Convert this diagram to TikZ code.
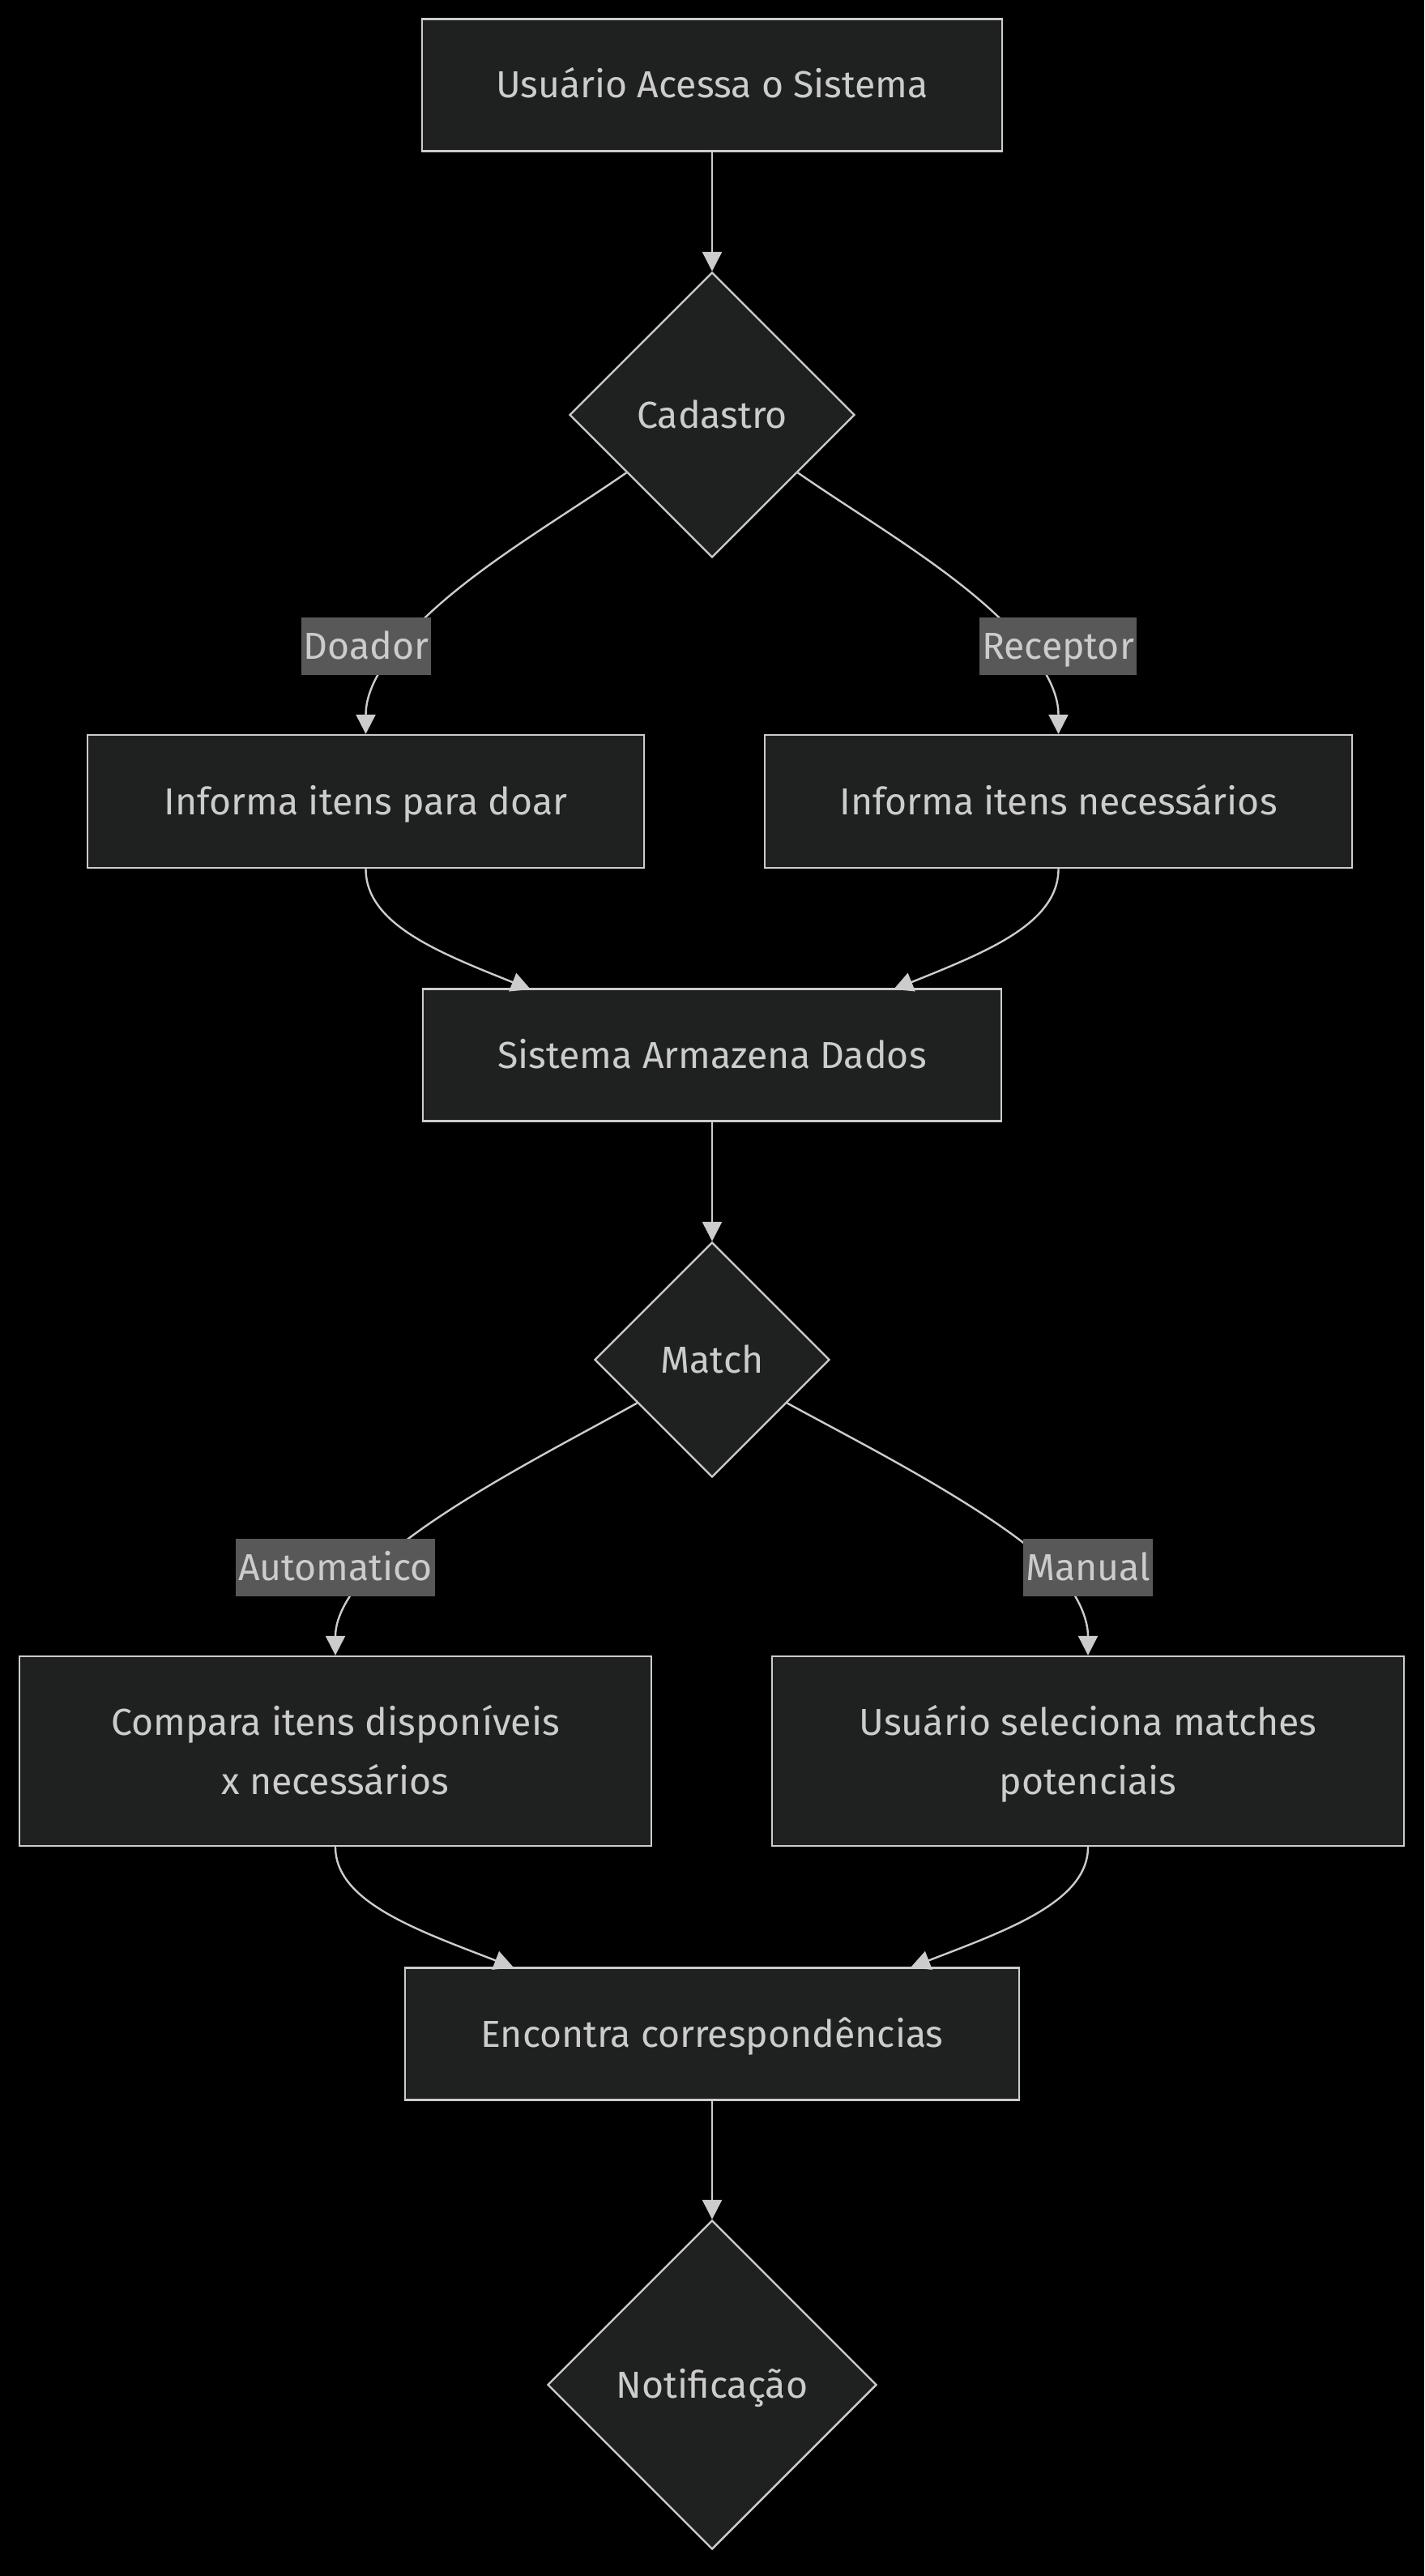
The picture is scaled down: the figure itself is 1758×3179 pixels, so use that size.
\documentclass[tikz,border=0pt]{standalone}
\usepackage{fontspec}
\setmainfont{Fira Sans}
\usetikzlibrary{shapes.geometric,arrows.meta}
\definecolor{nodefill}{HTML}{1F2020}
\definecolor{strokec}{HTML}{CCCCCC}
\definecolor{textc}{HTML}{CCCCCC}
\definecolor{lblbg}{HTML}{585858}
\pgfdeclarelayer{fg}
\pgfsetlayers{main,fg}
\begin{document}
\begin{tikzpicture}[x=0.5pt,y=-0.5pt,
  basefont/.style={font=\fontsize{23.2pt}{36.5pt}\selectfont},
  boxnode/.style={draw=strokec, fill=nodefill, line width=1.2pt, text=textc,
    rectangle, inner sep=0pt, align=center, basefont, text height=19pt, text depth=3pt},
  twoline/.style={text height=53pt, text depth=0pt},
  decision/.style={draw=strokec, fill=nodefill, line width=1.2pt, text=textc,
    diamond, aspect=1, inner sep=0pt, basefont, text height=19pt, text depth=3pt},
  edgelabel/.style={fill=lblbg, text=textc, inner xsep=1.5pt, inner ysep=0pt,
    minimum height=35.5pt, basefont, text height=19pt, text depth=3pt},
  flowline/.style={draw=strokec, line width=1.2pt, -{Triangle[length=12pt,width=12pt]}}]
\useasboundingbox (0,0) rectangle (1758,3179);
\fill[black] (0,0) rectangle (1758,3179);

% nodes
\node[boxnode, minimum width=358pt, minimum height=81.5pt] (acesso) at (879,105) {Usuário Acessa o Sistema};
\node[decision, minimum width=176pt, minimum height=176pt] (cad) at (879,512) {Cadastro};
\node[boxnode, minimum width=343.5pt, minimum height=82pt] (doar) at (451.5,989) {Informa itens para doar};
\node[boxnode, minimum width=362.5pt, minimum height=82pt] (nec) at (1306.5,989) {Informa itens necessários};
\node[boxnode, minimum width=357pt, minimum height=81.5pt] (sist) at (879,1302) {Sistema Armazena Dados};
\node[decision, minimum width=145pt, minimum height=145pt] (match) at (879,1678) {Match};
\node[boxnode, twoline, minimum width=390pt, minimum height=117pt] (comp) at (414,2161) {Compara itens disponíveis\\x necessários};
\node[boxnode, twoline, minimum width=390pt, minimum height=117pt] (sel) at (1343,2161) {Usuário seleciona matches\\potenciais};
\node[boxnode, minimum width=379pt, minimum height=81.5pt] (enc) at (879,2510) {Encontra correspondências};
\node[decision, minimum width=203pt, minimum height=203pt] (notif) at (879,2943) {Notificação};

\begin{pgfonlayer}{fg}
\node[edgelabel] (ldoador) at (452,797) {Doador};
\node[edgelabel] (lreceptor) at (1306,797) {Receptor};
\node[edgelabel] (lauto) at (414,1934) {Automatico};
\node[edgelabel] (lmanual) at (1343,1934) {Manual};
\end{pgfonlayer}

% connectors
\draw[flowline] (acesso.south) -- (cad.north);
\draw[flowline] (cad.214) .. controls (680,648) and (560,715) .. (492,797)
   .. controls (462,832) and (451.5,860) .. (doar.north);
\draw[flowline] (cad.326) .. controls (1078,648) and (1198,715) .. (1266,797)
   .. controls (1296,832) and (1306.5,860) .. (nec.north);
\draw[flowline] (doar.south) .. controls (451.5,1140) and (540,1175) .. (655,1221);
\draw[flowline] (nec.south) .. controls (1306.5,1140) and (1217,1175) .. (1103,1221);
\draw[flowline] (sist.south) -- (match.north);
\draw[flowline] (match.210) .. controls (700,1780) and (540,1860) .. (463,1933)
   .. controls (425,1970) and (414,2000) .. (comp.north);
\draw[flowline] (match.330) .. controls (1060,1780) and (1220,1860) .. (1298,1933)
   .. controls (1333,1968) and (1343,2000) .. (sel.north);
\draw[flowline] (comp.south) .. controls (414,2347) and (515,2382) .. (634,2428);
\draw[flowline] (sel.south) .. controls (1343,2347) and (1243,2382) .. (1124,2428);
\draw[flowline] (enc.south) -- (notif.north);
\end{tikzpicture}
\end{document}
